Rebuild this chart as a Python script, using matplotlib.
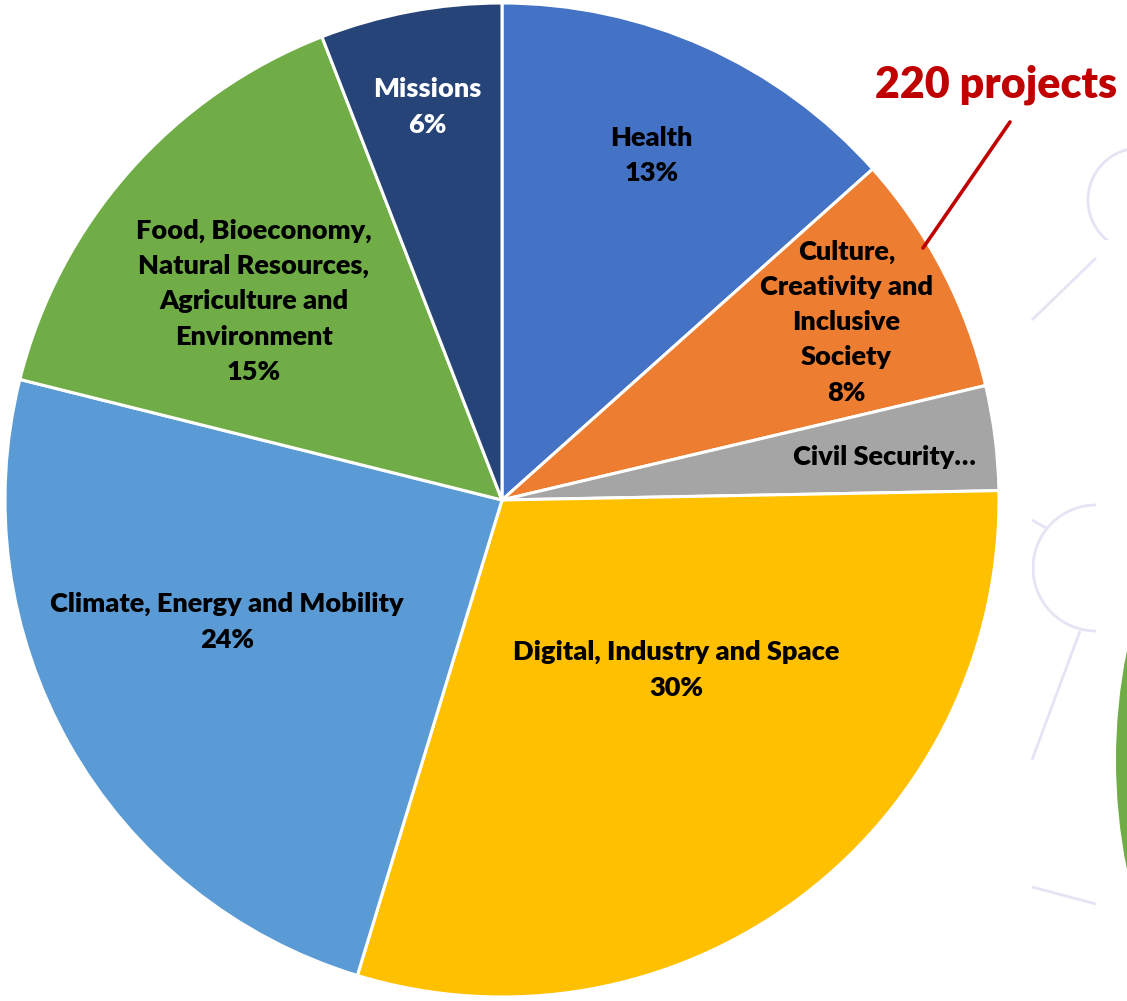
import matplotlib
matplotlib.use("Agg")
import matplotlib.pyplot as plt
import numpy as np
from matplotlib.patches import Circle, Rectangle

# ---- data ----
categories = ["Health",
              "Culture,\nCreativity and\nInclusive\nSociety",
              "Civil Security\u2026",
              "Digital, Industry and Space",
              "Climate, Energy and Mobility",
              "Food, Bioeconomy,\nNatural Resources,\nAgriculture and\nEnvironment",
              "Missions"]
shares = [13.4, 7.9, 3.4, 30.0, 24.2, 15.2, 5.9]
show_pct = [True, True, False, True, True, True, True]
annotation_text = "220 projects"

# ---- styles / layout ----
colors = ["#4472C4", "#ED7D31", "#A5A5A5", "#FFC000", "#5B9BD5", "#70AD47", "#264478"]
text_colors = ["black"] * 6 + ["white"]
label_frac = [0.756, 0.78, 0.775, 0.49, 0.605, 0.64, 0.805]
label_shift = [-0.7, 0.2, 0.8, -8.7, 5.6, -2.7, -0.2]   # clockwise degrees

W, H = 1127, 1001
fig = plt.figure(figsize=(W / 100, H / 100), dpi=100)
ax = fig.add_axes([0, 0, 1, 1])

def py(y):  # pixel-from-top to data y
    return H - y

center = (502, py(500))
radius = 497

# faint background decoration (lavender line art)
deco = "#E6E4F4"
clip = Rectangle((1032, 0), 64, H, transform=ax.transData)
c2 = Circle((1096, py(568)), 63, fill=False, ec=deco, lw=2)
ax.add_patch(c2); c2.set_clip_path(clip)
c1 = Circle((1140, py(200)), 52, fill=False, ec=deco, lw=2)
ax.add_patch(c1)
clip1 = Rectangle((1032, py(240)), 95, 240, transform=ax.transData)
c1.set_clip_path(clip1)
for (x0, y0), (x1, y1) in [((1032, 320), (1096, 258)),
                           ((1032, 520), (1046, 528)),
                           ((1080, 631), (1032, 760)),
                           ((1032, 887), (1096, 904))]:
    ax.plot([x0, x1], [py(y0), py(y1)], color=deco, lw=2, solid_capstyle="butt")
ax.add_patch(Circle((1671, py(760)), 555, color="#70AD47", lw=0))

wedges, _ = ax.pie(shares, center=center, radius=radius, startangle=90,
                   counterclock=False, colors=colors,
                   wedgeprops=dict(edgecolor="white", linewidth=2.2))

for w, cat, v, sp, tc, fr, sh in zip(wedges, categories, shares, show_pct,
                                      text_colors, label_frac, label_shift):
    mid = np.deg2rad((w.theta1 + w.theta2) / 2 - sh)
    x = center[0] + radius * fr * np.cos(mid)
    y = center[1] + radius * fr * np.sin(mid)
    txt = cat + (f"\n{round(v)}%" if sp else "")
    ax.text(x, y, txt, ha="center", va="center", color=tc,
            fontsize=19.5, fontweight="heavy", family="Lato", linespacing=1.56)

ax.text(996, py(85), annotation_text, ha="center", va="center",
        color="#C00000", fontsize=31, fontweight="heavy", family="Lato")
ax.annotate("", xy=(923, py(248)), xytext=(1010, py(122)),
            arrowprops=dict(arrowstyle="-", color="#C00000", lw=2.6,
                            shrinkA=0, shrinkB=0))

ax.set_xlim(0, W)
ax.set_ylim(0, H)
ax.set_aspect("equal")
ax.axis("off")
fig.savefig("out.png", dpi=100, facecolor="white")
